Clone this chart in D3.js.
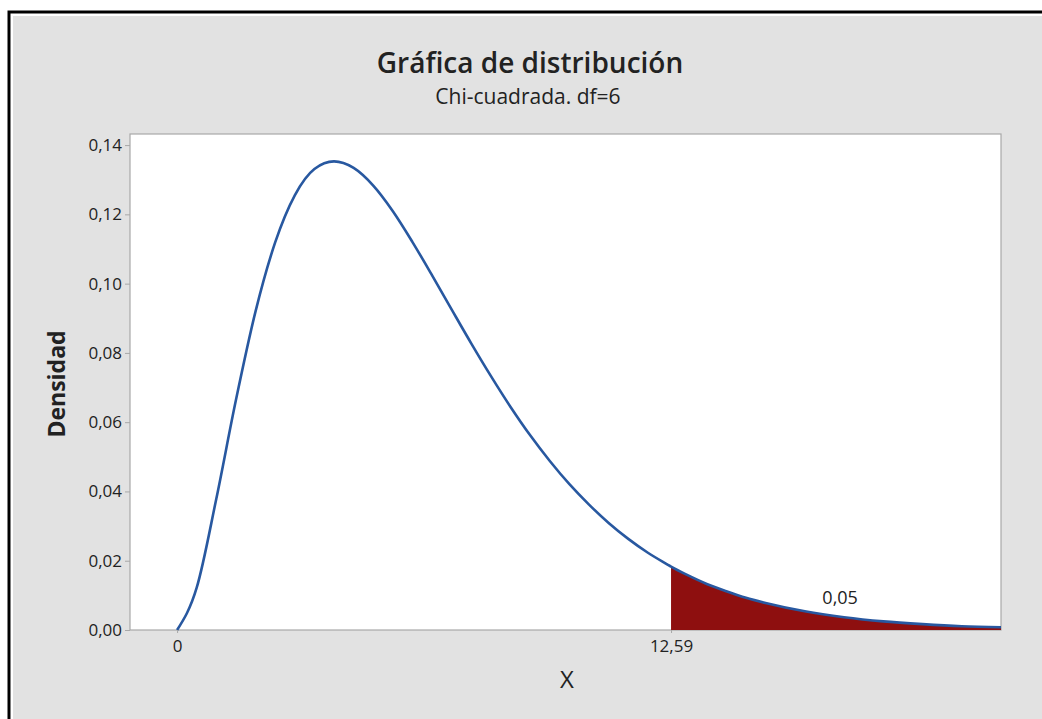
<!DOCTYPE html>
<html>
<head>
<meta charset="utf-8">
<script src="https://cdn.jsdelivr.net/npm/d3@7"></script>
<style>
  body { margin: 0; background: #ffffff; }
  text { font-family: "Open Sans", "Noto Sans", sans-serif; fill: #222; }
</style>
</head>
<body>
<svg id="chart" width="1042" height="719"></svg>
<script>
// values (density curve, chi-square df=6)
var xValues = [0, 0.5, 1, 1.5, 2, 2.5, 3, 3.5, 4, 4.5, 5, 5.5, 6, 6.5, 7, 7.5, 8, 8.5, 9, 9.5,
  10, 10.5, 11, 11.5, 12, 12.5, 12.59, 13, 13.5, 14, 14.5, 15, 16, 17, 18, 19, 20, 21];
var densityValues = [0, 0.0122, 0.0379, 0.0664, 0.0920, 0.1119, 0.1255, 0.1331, 0.1353, 0.1334,
  0.1283, 0.1209, 0.1120, 0.1024, 0.0925, 0.0827, 0.0733, 0.0644, 0.0562, 0.0488,
  0.0421, 0.0362, 0.0309, 0.0263, 0.0223, 0.0189, 0.0183, 0.0159, 0.0133, 0.0112, 0.0093,
  0.0078, 0.0054, 0.0037, 0.0025, 0.0017, 0.0011, 0.0008];
var yTicks = [0, 0.02, 0.04, 0.06, 0.08, 0.10, 0.12, 0.14];
var xTicks = [0, 12.59];
var xTickLabels = ["0", "12,59"];
var criticalValue = 12.59;
var areaLabel = "0,05";
var areaLabelX = 16.9;

var svg = d3.select("#chart");
var W = 1042, H = 719;
var mLeft = 130, mRight = 1001, mTop = 134, mBottom = 630;

var points = xValues.map(function(d, i){ return {x: d, y: densityValues[i]}; });
var tail = points.filter(function(d){ return d.x >= criticalValue; });

// outer frame
svg.append("rect").attr("x", 0).attr("y", 0).attr("width", W).attr("height", H).attr("fill", "#ffffff");
svg.append("rect").attr("x", 9).attr("y", 12).attr("width", W + 20).attr("height", H + 20)
  .attr("fill", "none").attr("stroke", "#000").attr("stroke-width", 3);
svg.append("rect").attr("x", 13).attr("y", 16).attr("width", W).attr("height", H)
  .attr("fill", "#e2e2e2");

var xScale = d3.scaleLinear().domain([-1.2, 21.0]).range([mLeft, mRight]);
var yScale = d3.scaleLinear().domain([0, 0.1432]).range([mBottom, mTop]);

// plot area
svg.append("rect").attr("x", mLeft).attr("y", mTop)
  .attr("width", mRight - mLeft).attr("height", mBottom - mTop)
  .attr("fill", "#ffffff").attr("stroke", "#a8a8a8").attr("stroke-width", 1.2);

// shaded tail
var area = d3.area()
  .x(function(d){ return xScale(d.x); })
  .y0(yScale(0))
  .y1(function(d){ return yScale(d.y); })
  .curve(d3.curveMonotoneX);
svg.append("path").datum(tail).attr("d", area).attr("fill", "#8e0f0f");

// density curve
var line = d3.line()
  .x(function(d){ return xScale(d.x); })
  .y(function(d){ return yScale(d.y); })
  .curve(d3.curveMonotoneX);
svg.append("path").datum(points).attr("d", line)
  .attr("fill", "none").attr("stroke", "#2858a0").attr("stroke-width", 2.6);

// y axis
var yAxis = d3.axisLeft(yScale).tickValues(yTicks).tickSize(5).tickPadding(3)
  .tickFormat(function(d){ return d3.format(".2f")(d).replace(".", ","); });
var gy = svg.append("g").attr("transform", "translate(" + mLeft + ",0)").call(yAxis);
gy.select(".domain").remove();
gy.selectAll(".tick line").attr("stroke", "#a8a8a8");
gy.selectAll(".tick text").style("font-size", "17px").attr("fill", "#333");

// x axis
var xAxis = d3.axisBottom(xScale).tickValues(xTicks).tickSize(3).tickPadding(7)
  .tickFormat(function(d, i){ return xTickLabels[i]; });
var gx = svg.append("g").attr("transform", "translate(0," + mBottom + ")").call(xAxis);
gx.select(".domain").remove();
gx.selectAll(".tick line").attr("stroke", "#a8a8a8");
gx.selectAll(".tick text").style("font-size", "17px").attr("fill", "#333");

// titles
svg.append("text").attr("x", 530).attr("y", 73).attr("text-anchor", "middle")
  .style("font-size", "28px").style("font-weight", 600).text("Gráfica de distribución");
svg.append("text").attr("x", 528).attr("y", 104).attr("text-anchor", "middle")
  .style("font-size", "21px").text("Chi-cuadrada. df=6");
svg.append("text").attr("x", 567).attr("y", 688).attr("text-anchor", "middle")
  .style("font-size", "24px").text("X");
svg.append("text").attr("transform", "translate(65,384) rotate(-90)")
  .attr("text-anchor", "middle").style("font-size", "23px").style("font-weight", 700)
  .text("Densidad");

// tail probability label
svg.append("text").attr("x", xScale(areaLabelX)).attr("y", 604).attr("text-anchor", "middle")
  .style("font-size", "18px").attr("fill", "#333").text(areaLabel);
</script>
</body>
</html>
